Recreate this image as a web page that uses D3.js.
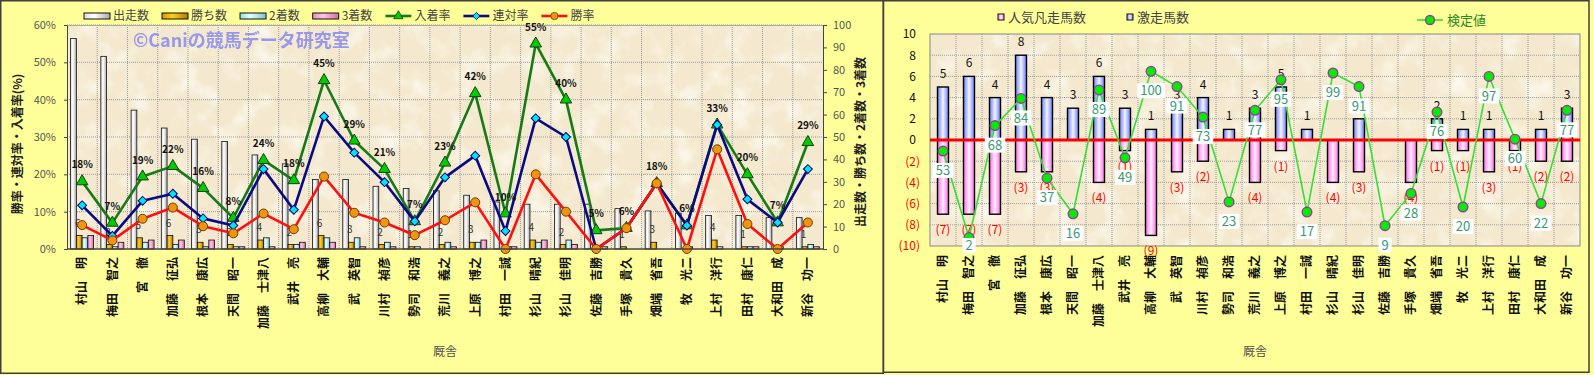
<!DOCTYPE html>
<html>
<head>
<meta charset="utf-8">
<script src="https://cdn.jsdelivr.net/npm/d3@7"></script>
<style>
body { margin: 0; background: #ffff99; }
svg { display: block; font-family: "Noto Sans CJK JP", sans-serif; }
</style>
</head>
<body>
<script>
// 厩舎 (categories)
var trainers = ["村山　明", "梅田　智之", "宮　徹", "加藤　征弘", "根本　康広", "天間　昭一", "加藤　士津八", "武井　亮", "高柳　大輔", "武　英智", "川村　禎彦", "勢司　和浩", "荒川　義之", "上原　博之", "村田　一誠", "杉山　晴紀", "杉山　佳明", "佐藤　吉勝", "手塚　貴久", "畑端　省吾", "牧　光二", "上村　洋行", "田村　康仁", "大和田　成", "新谷　功一"]

// left chart: counts (right axis)
var runs = [94, 86, 62, 54, 49, 48, 42, 38, 31, 31, 28, 27, 26, 24, 21, 20, 20, 20, 18, 17, 16, 15, 15, 14, 14]
var wins = [6, 2, 5, 6, 3, 2, 4, 2, 6, 3, 2, 1, 2, 3, 0, 4, 2, 0, 1, 3, 0, 4, 1, 0, 1]
var seconds = [5, 1, 3, 2, 1, 1, 5, 2, 5, 5, 3, 1, 3, 3, 1, 3, 4, 0, 0, 0, 1, 1, 1, 1, 2]
var thirds = [6, 3, 4, 4, 4, 1, 1, 3, 3, 1, 1, 0, 1, 4, 1, 4, 2, 1, 0, 0, 0, 0, 1, 0, 1]

// left chart: rates in % (left axis)
var placeRate = [18.1, 7.0, 19.4, 22.2, 16.3, 8.3, 23.8, 18.4, 45.2, 29.0, 21.4, 7.4, 23.1, 41.7, 9.5, 55.0, 40.0, 5.0, 5.6, 17.6, 6.3, 33.3, 20.0, 7.1, 28.6]
var quinellaRate = [11.7, 3.5, 12.9, 14.8, 8.2, 6.3, 21.4, 10.5, 35.5, 25.8, 17.9, 7.4, 19.2, 25.0, 4.8, 35.0, 30.0, 0, 5.6, 17.6, 6.3, 33.3, 13.3, 7.1, 21.4]
var winRate = [6.4, 2.3, 8.1, 11.1, 6.1, 4.2, 9.5, 5.3, 19.4, 9.7, 7.1, 3.7, 7.7, 12.5, 0, 20.0, 10.0, 0, 5.6, 17.6, 0, 26.7, 6.7, 0, 7.1]

// right chart
var gekisou = [5, 6, 4, 8, 4, 3, 6, 3, 1, 3, 4, 1, 3, 5, 1, 0, 2, 0, 0, 2, 1, 1, 0, 1, 3]      // 激走馬数
var bonsou = [-7, -7, -7, -3, -3, 0, -4, -1, -9, -3, -2, 0, -4, -1, 0, -4, -3, 0, -4, -1, -1, -3, -1, -2, -2] // 人気凡走馬数
var kentei = [53, 2, 68, 84, 37, 16, 89, 49, 100, 91, 73, 23, 77, 95, 17, 99, 91, 9, 28, 76, 20, 97, 60, 22, 77] // 検定値

// tick labels
var pctTicks = [0, 10, 20, 30, 40, 50, 60]
var cntTicks = [0, 10, 20, 30, 40, 50, 60, 70, 80, 90, 100]
var diffTicks = [-10, -8, -6, -4, -2, 0, 2, 4, 6, 8, 10]

var svg = d3.select("body").append("svg").attr("width", 1594).attr("height", 375)
var defs = svg.append("defs")

//gradientes horizontales para las barras
function grad(id, stops) {
	var g = defs.append("linearGradient").attr("id", id).attr("x1", 0).attr("x2", 1).attr("y1", 0).attr("y2", 0)
	stops.forEach(function(s) {
		g.append("stop").attr("offset", s[0]).attr("stop-color", s[1])
	})
}
grad("gRuns", [[0, "#dcdcdc"], [0.4, "#ffffff"], [1, "#a8a8a8"]])
grad("gWins", [[0, "#d89a00"], [0.4, "#ffcc22"], [1, "#b07a00"]])
grad("gSec", [[0, "#98dde6"], [0.4, "#e4ffff"], [1, "#78c4cc"]])
grad("gThird", [[0, "#e88cc4"], [0.4, "#ffc4e4"], [1, "#d070aa"]])
grad("gBlue", [[0, "#6a7cff"], [0.5, "#f4f4ff"], [1, "#6a7cff"]])
grad("gPink", [[0, "#ff66e6"], [0.5, "#fff0ff"], [1, "#ff66e6"]])

// paper texture for the plot areas
var f = defs.append("filter").attr("id", "paper").attr("x", 0).attr("y", 0).attr("width", 1).attr("height", 1)
f.append("feTurbulence").attr("type", "fractalNoise").attr("baseFrequency", "0.04").attr("numOctaves", 3).attr("seed", 7)
f.append("feColorMatrix").attr("type", "matrix")
	.attr("values", "0 0 0 0 1  0 0 0 0 0.985  0 0 0 0 0.94  1.8 0 0 0 -0.85")

function paper(g, x, y, w, h) {
	g.append("rect").attr("x", x).attr("y", y).attr("width", w).attr("height", h).attr("fill", "#f4e9ce")
	g.append("rect").attr("x", x).attr("y", y).attr("width", w).attr("height", h).attr("filter", "url(#paper)")
}

function dotted(sel) {
	sel.attr("stroke", "#9a9a9a").attr("stroke-width", 1).attr("stroke-dasharray", "1,1")
}

function marker(sel, kind) {
	if (kind == "tri") {
		sel.attr("d", d3.symbol().type(d3.symbolTriangle).size(58)).attr("fill", "#00cc00").attr("stroke", "#133f13").attr("stroke-width", 1)
	} else if (kind == "dia") {
		sel.attr("d", d3.symbol().type(d3.symbolSquare).size(40)).attr("fill", "#00e5f2").attr("stroke", "#000070").attr("stroke-width", 1)
	} else {
		sel.attr("d", d3.symbol().type(d3.symbolCircle).size(64)).attr("fill", "#f29410").attr("stroke", "#6b3f00").attr("stroke-width", 1)
	}
}

function catLabels(g, x, yAxis, off) {
	var ax = g.append("g").attr("transform", "translate(0," + yAxis + ")")
		.call(d3.axisBottom(x).tickSize(0).tickFormat(function(d) { return d }))
	ax.select(".domain").remove()
	ax.selectAll("text")
		.attr("font-family", null).attr("font-size", 12).attr("font-weight", "bold").attr("fill", "#111")
		.attr("transform", "rotate(-90)").attr("text-anchor", "end")
		.attr("x", -off).attr("y", 0).attr("dy", "0.36em")
	ax.attr("font-family", null).attr("font-size", null)
}

// ---------------- left chart ----------------
function drawLeft() {
	var x0 = 67, x1 = 823, yTop = 25, yBot = 249
	var g = svg.append("g")
	var x = d3.scaleBand().domain(trainers).range([x0, x1])
	var bw = x.bandwidth()
	var sub = d3.scaleBand().domain(["runs", "wins", "seconds", "thirds"]).range([3.6, 26.6])
	var yPct = d3.scaleLinear().domain([0, 60]).range([yBot, yTop])
	var yCnt = d3.scaleLinear().domain([0, 100]).range([yBot, yTop])

	paper(g, x0, yTop, x1 - x0, yBot - yTop)

	//grid
	g.selectAll(".vg").data(trainers.slice(1)).enter().append("line")
		.attr("x1", function(d) { return x(d) }).attr("x2", function(d) { return x(d) })
		.attr("y1", yTop).attr("y2", yBot).call(dotted)
	g.selectAll(".hg").data(pctTicks.slice(1)).enter().append("line")
		.attr("x1", x0).attr("x2", x1)
		.attr("y1", function(d) { return yPct(d) }).attr("y2", function(d) { return yPct(d) }).call(dotted)
	g.append("line").attr("x1", x0).attr("x2", x1).attr("y1", yTop + 0.5).attr("y2", yTop + 0.5).attr("stroke", "#a8a8a8")

	//bars
	var series = [
		{ key: "runs", values: runs, fill: "url(#gRuns)" },
		{ key: "wins", values: wins, fill: "url(#gWins)" },
		{ key: "seconds", values: seconds, fill: "url(#gSec)" },
		{ key: "thirds", values: thirds, fill: "url(#gThird)" }
	]
	series.forEach(function(s) {
		g.append("g").selectAll("rect").data(s.values).enter().append("rect")
			.attr("x", function(d, i) { return x(trainers[i]) + sub(s.key) })
			.attr("y", function(d) { return yCnt(d) })
			.attr("width", sub.bandwidth())
			.attr("height", function(d) { return yBot - yCnt(d) })
			.attr("fill", s.fill).attr("stroke", "#111").attr("stroke-width", 0.8)
	})

	//etiquetas de 勝ち数
	g.append("g").selectAll("text").data(wins).enter().append("text")
		.attr("x", function(d, i) { return x(trainers[i]) + sub("wins") + sub.bandwidth() / 2 - 1.5 })
		.attr("y", function(d) { return yCnt(d) - 9 })
		.attr("text-anchor", "middle").attr("font-size", 10).attr("fill", "#333")
		.text(function(d) { return d > 0 ? d : "" })

	//lines
	var lines = [
		{ values: placeRate, stroke: "#167a16", kind: "tri" },
		{ values: quinellaRate, stroke: "#0a0a84", kind: "dia" },
		{ values: winRate, stroke: "#ff1010", kind: "circ" }
	]
	lines.forEach(function(l) {
		var line = d3.line()
			.x(function(d, i) { return x(trainers[i]) + bw / 2 })
			.y(function(d) { return yPct(d) })
		g.append("path").datum(l.values).attr("d", line).attr("fill", "none")
			.attr("stroke", l.stroke).attr("stroke-width", 2.6).attr("stroke-linejoin", "round")
		g.append("g").selectAll("path").data(l.values).enter().append("path")
			.attr("transform", function(d, i) {
				return "translate(" + (x(trainers[i]) + bw / 2) + "," + yPct(d) + ")" + (l.kind == "dia" ? " rotate(45)" : "")
			})
			.call(marker, l.kind)
	})

	//etiquetas de 入着率
	g.append("g").selectAll("text").data(placeRate).enter().append("text")
		.attr("x", function(d, i) { return x(trainers[i]) + bw / 2 })
		.attr("y", function(d) { return yPct(d) - 13 })
		.attr("text-anchor", "middle").attr("font-size", 10).attr("font-weight", "bold").attr("fill", "#111")
		.text(function(d) { return Math.round(d) + "%" })

	//axes
	var ay = g.append("g").attr("transform", "translate(" + x0 + ",0)")
		.call(d3.axisLeft(yPct).tickValues(pctTicks).tickSize(3).tickSizeOuter(0).tickPadding(8).tickFormat(function(d) { return d + "%" }))
	ay.attr("font-family", null).attr("font-size", 11)
	ay.selectAll("text").attr("fill", "#555")
	ay.selectAll("line,path").attr("stroke", "#444")

	var ay2 = g.append("g").attr("transform", "translate(" + x1 + ",0)")
		.call(d3.axisRight(yCnt).tickValues(cntTicks).tickSize(4).tickSizeOuter(0).tickPadding(6))
	ay2.attr("font-family", null).attr("font-size", 11)
	ay2.selectAll("text").attr("fill", "#555")
	ay2.selectAll("line,path").attr("stroke", "#444")

	g.append("line").attr("x1", x0).attr("x2", x1).attr("y1", yBot).attr("y2", yBot).attr("stroke", "#444").attr("stroke-width", 1.5)
	catLabels(g, x, yBot, 8)

	//titulos
	g.append("text").attr("transform", "translate(18,144) rotate(-90)").attr("text-anchor", "middle").attr("dy", "0.36em")
		.attr("font-size", 12).attr("font-weight", "bold").attr("fill", "#222").text("勝率・連対率・入着率(%)")
	g.append("text").attr("transform", "translate(861,142) rotate(-90)").attr("text-anchor", "middle").attr("dy", "0.36em")
		.attr("font-size", 12).attr("font-weight", "bold").attr("fill", "#222").text("出走数・勝ち数・2着数・3着数")
	g.append("text").attr("x", (x0 + x1) / 2).attr("y", 356).attr("text-anchor", "middle")
		.attr("font-size", 12).attr("fill", "#555").text("厩舎")

	//watermark
	g.append("text").attr("x", 133).attr("y", 47).attr("font-size", 18).attr("font-weight", "bold")
		.attr("fill", "#8f8ff0").attr("opacity", 0.9).text("©Caniの競馬データ研究室")

	//legend
	var legend = [
		{ name: "出走数", fill: "url(#gRuns)" },
		{ name: "勝ち数", fill: "url(#gWins)" },
		{ name: "2着数", fill: "url(#gSec)" },
		{ name: "3着数", fill: "url(#gThird)" },
		{ name: "入着率", stroke: "#167a16", kind: "tri" },
		{ name: "連対率", stroke: "#0a0a84", kind: "dia" },
		{ name: "勝率", stroke: "#ff1010", kind: "circ" }
	]
	var lx = 84
	legend.forEach(function(item) {
		var it = g.append("g").attr("transform", "translate(" + lx + ",16)")
		if (item.fill) {
			it.append("rect").attr("x", 0).attr("y", -3).attr("width", 26).attr("height", 6)
				.attr("fill", item.fill).attr("stroke", "#111").attr("stroke-width", 1)
		} else {
			it.append("line").attr("x1", 0).attr("x2", 26).attr("stroke", item.stroke).attr("stroke-width", 2.6)
			it.append("path").call(marker, item.kind)
				.attr("transform", "translate(13,0) scale(0.8)" + (item.kind == "dia" ? " rotate(45)" : ""))
		}
		var t = it.append("text").attr("x", 29).attr("dy", "0.36em").attr("font-size", 12).attr("fill", "#444").text(item.name)
		lx += 29 + t.node().getComputedTextLength() + 13
	})
}

// ---------------- right chart ----------------
function drawRight() {
	var x0 = 930, x1 = 1580, yTop = 34, yBot = 246
	var g = svg.append("g")
	var x = d3.scaleBand().domain(trainers).range([x0, x1])
	var bw = x.bandwidth()
	var y = d3.scaleLinear().domain([-10, 10]).range([yBot, yTop])
	var yv = d3.scaleLinear().domain([-3, 122]).range([yBot, yTop]) //eje secundario oculto para 検定値
	var barW = 11

	paper(g, x0, yTop, x1 - x0, yBot - yTop)

	g.selectAll(".vg").data(trainers.slice(1)).enter().append("line")
		.attr("x1", function(d) { return x(d) }).attr("x2", function(d) { return x(d) })
		.attr("y1", yTop).attr("y2", yBot).call(dotted)
	g.selectAll(".hg").data(diffTicks.slice(1, -1)).enter().append("line")
		.attr("x1", x0).attr("x2", x1)
		.attr("y1", function(d) { return y(d) }).attr("y2", function(d) { return y(d) }).call(dotted)

	//bars
	var barSeries = [{ values: bonsou, fill: "url(#gPink)" }, { values: gekisou, fill: "url(#gBlue)" }]
	barSeries.forEach(function(s) {
		g.append("g").selectAll("rect").data(s.values).enter().append("rect")
			.attr("x", function(d, i) { return x(trainers[i]) + (bw - barW) / 2 })
			.attr("y", function(d) { return Math.min(y(d), y(0)) })
			.attr("width", barW)
			.attr("height", function(d) { return Math.abs(y(d) - y(0)) })
			.attr("fill", s.fill).attr("stroke", "#000").attr("stroke-width", function(d) { return d == 0 ? 0 : 1.4 })
	})

	g.append("rect").attr("x", x0).attr("y", yTop).attr("width", x1 - x0).attr("height", yBot - yTop)
		.attr("fill", "none").attr("stroke", "#888")
	g.append("line").attr("x1", x0).attr("x2", x1).attr("y1", y(0)).attr("y2", y(0)).attr("stroke", "#ff0000").attr("stroke-width", 3)

	//bar labels
	g.append("g").selectAll("text").data(gekisou).enter().append("text")
		.attr("x", function(d, i) { return x(trainers[i]) + bw / 2 })
		.attr("y", function(d) { return y(d) - 9 })
		.attr("text-anchor", "middle").attr("font-size", 12).attr("fill", "#111")
		.text(function(d) { return d > 0 ? d : "" })
	g.append("g").selectAll("text").data(bonsou).enter().append("text")
		.attr("x", function(d, i) { return x(trainers[i]) + bw / 2 })
		.attr("y", function(d) { return y(d) + 20 })
		.attr("text-anchor", "middle").attr("font-size", 12).attr("fill", "#ff0000")
		.text(function(d) { return d < 0 ? "(" + (-d) + ")" : "" })

	//検定値 line
	var line = d3.line()
		.x(function(d, i) { return x(trainers[i]) + bw / 2 })
		.y(function(d) { return yv(d) })
	g.append("path").datum(kentei).attr("d", line).attr("fill", "none").attr("stroke", "#33e033").attr("stroke-width", 1.6)
	g.append("g").selectAll("circle").data(kentei).enter().append("circle")
		.attr("cx", function(d, i) { return x(trainers[i]) + bw / 2 })
		.attr("cy", function(d) { return yv(d) })
		.attr("r", 4.8).attr("fill", "#00ee00").attr("stroke", "#9b3a9b").attr("stroke-width", 1.4)

	var lab = g.append("g").selectAll("g").data(kentei).enter().append("g")
		.attr("transform", function(d, i) {
			return "translate(" + (x(trainers[i]) + bw / 2) + "," + Math.min(yv(d) + 12, 238) + ")"
		})
	lab.append("text").attr("y", 7.5).attr("dy", "0.36em").attr("text-anchor", "middle")
		.attr("font-size", 13).attr("fill", "#3a9a74").text(function(d) { return d })
	lab.insert("rect", "text")
		.attr("x", function() { return -this.parentNode.querySelector("text").getComputedTextLength() / 2 - 3 })
		.attr("width", function() { return this.parentNode.querySelector("text").getComputedTextLength() + 6 })
		.attr("y", 0).attr("height", 15).attr("fill", "#fff")

	//y axis
	var ay = g.append("g").attr("transform", "translate(" + x0 + ",0)")
		.call(d3.axisLeft(y).tickValues(diffTicks).tickSize(0).tickPadding(10)
			.tickFormat(function(d) { return d < 0 ? "(" + (-d) + ")" : d }))
	ay.attr("font-family", null).attr("font-size", 12)
	ay.select(".domain").remove()
	ay.selectAll("text")
		.attr("fill", function(d) { return d < 0 ? "#ff0000" : "#111" })
		.attr("dx", function(d) { return d < 0 ? 0 : -4 })

	catLabels(g, x, yBot, 9)
	g.append("text").attr("x", (x0 + x1) / 2).attr("y", 356).attr("text-anchor", "middle")
		.attr("font-size", 12).attr("fill", "#555").text("厩舎")

	//legend
	var l1 = g.append("g").attr("transform", "translate(998,17)")
	l1.append("rect").attr("x", 0).attr("y", -3).attr("width", 6).attr("height", 6).attr("fill", "url(#gPink)").attr("stroke", "#111")
	l1.append("text").attr("x", 10).attr("dy", "0.36em").attr("font-size", 13).attr("fill", "#444").text("人気凡走馬数")
	var l2 = g.append("g").attr("transform", "translate(1127,17)")
	l2.append("rect").attr("x", 0).attr("y", -3).attr("width", 6).attr("height", 6).attr("fill", "url(#gBlue)").attr("stroke", "#111")
	l2.append("text").attr("x", 10).attr("dy", "0.36em").attr("font-size", 13).attr("fill", "#444").text("激走馬数")
	var l3 = g.append("g").attr("transform", "translate(1417,20)")
	l3.append("line").attr("x1", 0).attr("x2", 26).attr("stroke", "#33e033").attr("stroke-width", 1.6)
	l3.append("circle").attr("cx", 13).attr("r", 4.5).attr("fill", "#00ee00").attr("stroke", "#9b3a9b").attr("stroke-width", 1.4)
	l3.append("text").attr("x", 30).attr("dy", "0.36em").attr("font-size", 13).attr("fill", "#2a8a2a").text("検定値")
}

drawLeft()
drawRight()

//bordes de los paneles
svg.append("rect").attr("x", 0.75).attr("y", 0.75).attr("width", 882.5).attr("height", 372.5)
	.attr("fill", "none").attr("stroke", "#404040").attr("stroke-width", 1.5)
svg.append("rect").attr("x", 883.5).attr("y", 0.75).attr("width", 705.5).attr("height", 371.5)
	.attr("fill", "none").attr("stroke", "#404040").attr("stroke-width", 1.5)
</script>
</body>
</html>
